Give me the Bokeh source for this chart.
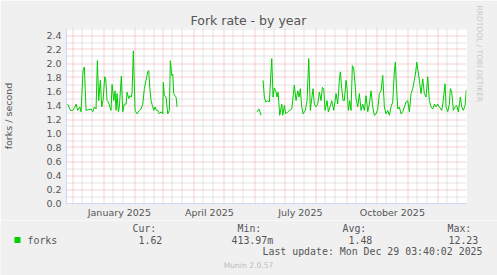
import datetime as dt
import math
from bokeh.plotting import figure
from bokeh.layouts import column
from bokeh.models import (Range1d, FixedTicker, DatetimeTickFormatter, NumeralTickFormatter, Title)
from bokeh.core.properties import value
from bokeh.embed import file_html
from bokeh.resources import INLINE

# ---------------- data ----------------
# day offsets from 2025-01-01 and fork rate values (forks / second)
seg1_days = [-36.6, -34, -31.6, -29.3, -28.3, -26.6, -24.6, -23.3, -21.3, -20, -18.3, -16, -13.3, -11.6,
             -10, -8.3, -7, -5.6, -4, -2.6, -1.3, 0.4, 1.4, 2.7, 4, 6.7, 7.7, 9.4, 10.7, 11.7, 12.7, 14,
             15, 17, 18.4, 20, 21.7, 22.7, 24.4, 25.7, 27, 27.7, 29, 30.7, 32.7, 35, 36.7, 38.4, 40, 41.7,
             43.4, 44.4, 45.4, 46.7, 48.4, 49.4, 50.7, 52, 53.4, 55, 56.7, 58.4, 59, 60, 61.7, 63.4, 65,
             66, 67.4, 68.4, 69.4, 70.7, 71.7, 72.7]
seg1_vals = [1.42, 1.33, 1.33, 1.38, 1.42, 1.33, 1.38, 1.31, 1.90, 1.95, 1.33, 1.34, 1.35, 1.31,
             1.38, 1.35, 2.04, 1.47, 1.76, 1.38, 1.47, 1.81, 1.78, 1.47, 1.45, 1.33, 1.70, 1.47, 1.61,
             1.33, 1.57, 1.31, 1.38, 1.82, 1.31, 1.42, 1.42, 1.59, 1.50, 1.54, 1.52, 1.59, 2.18, 1.33,
             1.28, 1.33, 1.35, 1.42, 1.64, 1.76, 1.88, 1.90, 1.66, 1.47, 1.38, 1.33, 1.38, 1.33, 1.33,
             1.28, 1.31, 1.28, 1.73, 1.54, 1.52, 1.28, 1.33, 2.04, 1.83, 1.85, 1.57, 1.54, 1.52, 1.38]

seg2a_days = [152.7, 154.7, 156.7]
seg2a_vals = [1.31, 1.35, 1.26]

seg2b_days = [158.7, 160, 161.4, 163.4, 165, 167.4, 168.7, 170, 171.4, 172.7, 173.7, 175.4, 177.4,
              178.4, 180, 181.4, 183.4, 185.4, 187.4, 190, 191.7, 193.4, 194.7, 196, 197.4, 198.7, 201,
              202.7, 204.4, 206, 207.4, 208.7, 210, 211.7, 213.4, 215, 216.7, 218, 219.4, 220.7, 222.7,
              224, 225.7, 227.4, 229.4, 231.7, 233.4, 235, 236, 237.4, 238.7, 240, 241.7, 242.7, 244,
              245.4, 246.7, 248, 249.4, 250.7, 251.7, 253.4, 255, 256.7, 258.4, 260, 261.7, 263.4, 265,
              266.7, 268.4, 270, 271.7, 273.4, 275, 276.7, 278.4, 280, 281.7, 283.4, 285, 286.7, 288.4,
              290, 291, 292, 293.4, 295, 296.7, 298.4, 300, 301.7, 303.4, 305, 306.7, 308.4, 310, 311.4,
              312.4, 313.4, 315, 316.7, 318.4, 320, 321.7, 323.4, 325, 326.7, 328.4, 330, 331.7, 333.4,
              335, 337.4, 338.7, 340.7, 341.7, 343.4, 345, 346, 347.4, 349, 350.7, 352.4, 354, 356,
              357.4, 359, 360.7, 362]
seg2b_vals = [1.76, 1.52, 1.45, 1.47, 1.45, 2.07, 1.52, 1.65, 1.61, 1.52, 1.59, 1.26, 1.42,
              1.26, 1.40, 1.28, 1.31, 1.33, 1.35, 1.69, 1.47, 1.61, 1.52, 1.64, 1.38, 1.28, 1.33,
              1.47, 2.07, 1.33, 1.50, 1.64, 1.42, 1.38, 1.42, 1.59, 1.47, 1.66, 1.64, 1.33, 1.47,
              1.31, 1.38, 1.47, 1.33, 1.57, 1.42, 1.76, 1.88, 1.64, 1.47, 1.47, 1.76, 1.64, 1.33,
              1.47, 1.33, 1.97, 1.92, 1.71, 1.50, 1.38, 1.57, 1.33, 1.42, 1.33, 1.54, 1.31, 1.42,
              1.61, 1.38, 1.26, 1.28, 1.35, 1.57, 1.61, 1.83, 1.38, 1.28, 1.33, 1.26, 1.38, 1.45,
              1.88, 2.02, 1.71, 1.35, 1.38, 1.28, 1.31, 1.38, 1.45, 1.47, 1.31, 1.57, 1.64, 1.76,
              1.88, 2.02, 1.92, 1.76, 1.57, 1.78, 1.57, 1.52, 1.81, 1.47, 1.38, 1.35, 1.42, 1.38,
              1.42, 1.38, 1.33, 1.45, 1.71, 1.38, 1.31, 1.42, 1.64, 1.59, 1.33, 1.38, 1.40, 1.31,
              1.52, 1.38, 1.33, 1.40, 1.62]

y_major = [0.0, 0.2, 0.4, 0.6, 0.8, 1.0, 1.2, 1.4, 1.6, 1.8, 2.0, 2.2, 2.4]
y_minor = [0.1, 0.3, 0.5, 0.7, 0.9, 1.1, 1.3, 1.5, 1.7, 1.9, 2.1, 2.3, 2.5]
label_months = [(2025, 1), (2025, 4), (2025, 7), (2025, 10)]

title = "Fork rate - by year"
y_label = "forks / second"
series_name = "forks"
stat_heads = ["Cur:", "Min:", "Avg:", "Max:"]
stat_vals = ["1.62", "413.97m", "1.48", "12.23"]
last_update = "Last update: Mon Dec 29 03:40:02 2025"
watermark = "RRDTOOL / TOBI OETIKER"
footer = "Munin 2.0.57"

# ---------------- helpers ----------------
EPOCH = dt.datetime(1970, 1, 1)
BASE = dt.datetime(2025, 1, 1)
END = dt.datetime(2025, 12, 29, 3, 40, 2)
START = END - dt.timedelta(days=400)
Y0, Y1 = 0.0, 2.5

# frame geometry (pixels)
FL, FR, FT, FB = 66, 31, 28, 17
W, H = 497, 220
FW, FH = W - FL - FR, H - FT - FB


def ms(d):
    return (d - EPOCH).total_seconds() * 1000.0


def day_ms(off):
    return ms(BASE + dt.timedelta(days=off))


S_MS, E_MS = ms(START), ms(END)


def snap_x(t):
    # place a grid line on the centre of the pixel column it falls in
    px = (t - S_MS) / (E_MS - S_MS) * FW
    return S_MS + (math.floor(px) + 0.5) / FW * (E_MS - S_MS)


def snap_y(v):
    py = (Y1 - v) / (Y1 - Y0) * FH
    return Y1 - (math.floor(py) + 0.5) / FH * (Y1 - Y0)


NAN = float("nan")
xs = [day_ms(d) for d in seg1_days] + [NAN] + [day_ms(d) for d in seg2a_days] + [NAN] + \
     [day_ms(d) for d in seg2b_days]
ys = seg1_vals + [NAN] + seg2a_vals + [NAN] + seg2b_vals

month_starts, minor_days = [], []
for yy, mm in [(2024, 11), (2024, 12)] + [(2025, k) for k in range(1, 13)]:
    for dd, target in ((1, month_starts), (10, minor_days), (20, minor_days)):
        t = dt.datetime(yy, mm, dd)
        if START < t < END:
            target.append(ms(t))

FONT_COL = "#555555"
SANS = "DejaVu Sans"
MONO = "DejaVu Sans Mono"

p = figure(width=W, height=H, x_axis_type="datetime", output_backend="svg", toolbar_location=None,
           min_border_left=FL, min_border_right=FR, min_border_top=FT, min_border_bottom=FB,
           x_range=Range1d(S_MS, E_MS), y_range=Range1d(Y0, Y1), title=title,
           frame_align=False)
p.background_fill_color = "#FFFFFF"
p.border_fill_color = "#F0F0F0"
p.outline_line_color = None
p.xgrid.grid_line_color = None
p.ygrid.grid_line_color = None

p.title.align = "left"
p.title.offset = 124
p.title.standoff = 1
p.title.text_font = SANS
p.title.text_font_size = "12.5px"
p.title.text_font_style = "normal"
p.title.text_color = FONT_COL

p.add_layout(Title(text=watermark, align="left", offset=-23, standoff=17, text_font=SANS,
                   text_font_size="7.5px", text_font_style="normal", text_color="#C8C8C8"), "right")

for ax in (p.xaxis[0], p.yaxis[0]):
    ax.axis_line_color = "#CFD6F8"
    ax.major_tick_line_color = None
    ax.minor_tick_line_color = None
    ax.major_tick_out = 0
    ax.major_tick_in = 0
    ax.minor_tick_out = 0
    ax.minor_tick_in = 0
    ax.major_label_text_font = SANS
    ax.major_label_text_font_size = "9.5px"
    ax.major_label_text_color = FONT_COL

p.yaxis.ticker = FixedTicker(ticks=y_major)
p.yaxis.formatter = NumeralTickFormatter(format="0.0")
p.yaxis.major_label_standoff = 5
p.yaxis.axis_label = y_label
p.yaxis.axis_label_text_font = SANS
p.yaxis.axis_label_text_font_size = "9.5px"
p.yaxis.axis_label_text_font_style = "normal"
p.yaxis.axis_label_text_color = FONT_COL
p.yaxis.axis_label_standoff = 29

p.xaxis.ticker = FixedTicker(ticks=[ms(dt.datetime(yy, mm, 16)) for yy, mm in label_months])
fmt = "%B %Y"
p.xaxis.formatter = DatetimeTickFormatter(microseconds=fmt, milliseconds=fmt, seconds=fmt, minsec=fmt,
                                          minutes=fmt, hourmin=fmt, hours=fmt, days=fmt, months=fmt,
                                          years=fmt)
p.xaxis.major_label_standoff = 3

# dotted grid, pixel-aligned so the dots stay crisp
GREY = "#C8C8C8"
RED = "#EEA2A2"


def hgrid(vals, color):
    yv = [snap_y(v) for v in vals]
    p.segment(x0=[S_MS] * len(yv), x1=[E_MS] * len(yv), y0=yv, y1=yv,
              line_color=color, line_width=1, line_dash="1 1")


def vgrid(ts, color):
    xv = [snap_x(t) for t in ts]
    p.segment(x0=xv, x1=xv, y0=[Y0] * len(xv), y1=[Y1] * len(xv),
              line_color=color, line_width=1, line_dash="1 1")


hgrid(y_minor, GREY)
vgrid(minor_days, GREY)
hgrid(y_major[1:], RED)
vgrid(month_starts, RED)

p.line(xs, ys, line_color="#00CC00", line_width=1)

# ---------------- legend strip (pixel coordinate space) ----------------
q = figure(width=W, height=55, output_backend="svg", toolbar_location=None,
           x_range=Range1d(0, W), y_range=Range1d(275, 220), min_border=0,
           x_axis_location=None, y_axis_location=None, frame_align=False)
q.background_fill_color = "#F0F0F0"
q.border_fill_color = "#F0F0F0"
q.outline_line_color = None
q.grid.visible = False

mono = dict(text_font=value(MONO), text_font_size=value("9.9px"), text_color=FONT_COL,
            text_baseline="middle", text_align="left")
q.text(x=[132, 237, 342, 447], y=[228] * 4, text=stat_heads, **mono)
q.text(x=[27, 138, 231, 348, 448], y=[239.5] * 5, text=[series_name] + stat_vals, **mono)
q.text(x=[262], y=[251], text=[last_update], **mono)
q.text(x=[248], y=[264.5], text=[footer], text_font=value(SANS), text_font_size=value("7.6px"),
       text_color="#BBBBBB", text_baseline="middle", text_align="center")
q.rect(x=[17], y=[239.5], width=6, height=6, fill_color="#00CC00", line_color=None)

layout = column(p, q, spacing=0)
open("out.html", "w").write(file_html(layout, INLINE))
